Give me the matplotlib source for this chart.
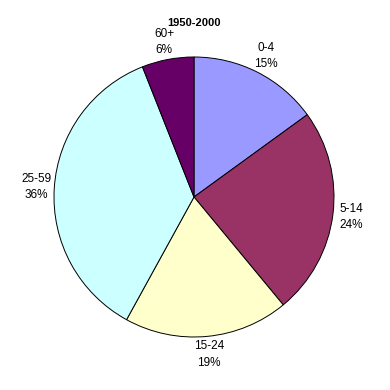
import matplotlib
matplotlib.use('Agg')
import matplotlib.pyplot as plt

groups = ['0-4', '5-14', '15-24', '25-59', '60+']
shares = [15, 24, 19, 36, 6]
colors = ['#9999FF', '#993366', '#FFFFCC', '#CCFFFF', '#660066']

plt.rcParams['font.family'] = ['Liberation Sans', 'DejaVu Sans']

fig = plt.figure(figsize=(3.9, 3.9), dpi=100)
# pie centre ~ (194,197) px, radius ~140 px
ax = fig.add_axes([(194 - 140) / 390, (390 - 197 - 140) / 390, 280 / 390, 280 / 390])
labels = [f'{g}\n{s}%' for g, s in zip(groups, shares)]
wedges, texts = ax.pie(shares, labels=labels, colors=colors, startangle=90,
                       counterclock=False, radius=1, labeldistance=1.13,
                       wedgeprops=dict(edgecolor='black', linewidth=0.7),
                       textprops=dict(fontsize=8.5, linespacing=1.45))
for t in texts:
    t.set_ha('center')
    t.set_va('center')
ax.set_xlim(-1, 1)
ax.set_ylim(-1, 1)
ax.set_aspect('equal')

fig.text(194 / 390, 1 - 23 / 390, '1950-2000', ha='center', va='center',
         fontsize=8, fontweight='bold')

fig.savefig('out.png', dpi=100)
